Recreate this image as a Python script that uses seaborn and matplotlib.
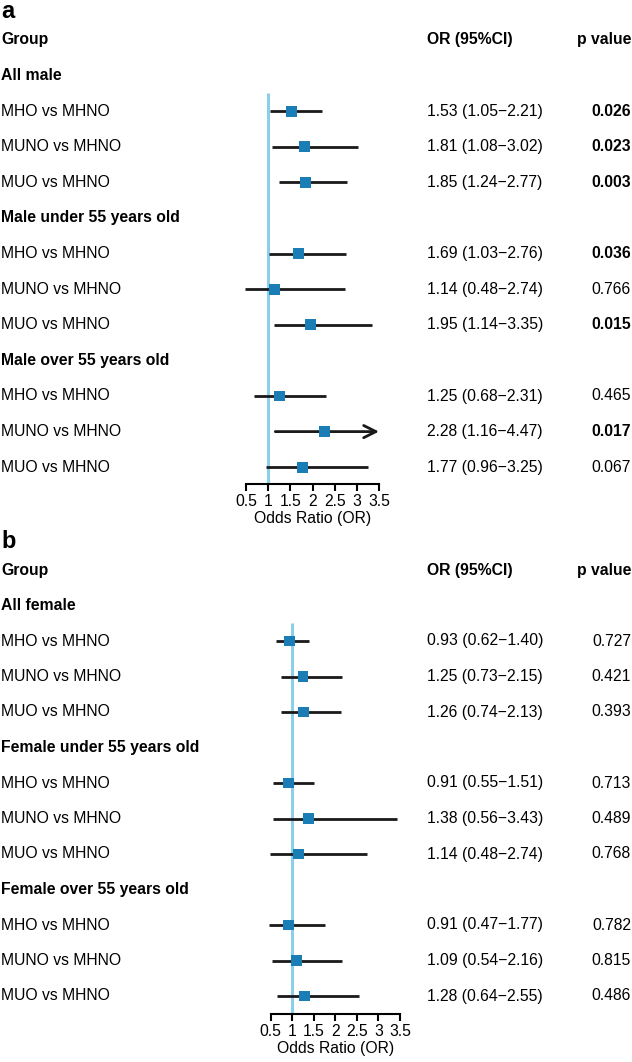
import numpy as np
import pandas as pd
import matplotlib
matplotlib.use("Agg")
import matplotlib.pyplot as plt
import seaborn as sns
from matplotlib.transforms import blended_transform_factory

sns.set_theme(style="white")
plt.rcParams["font.family"] = ["Liberation Sans", "DejaVu Sans"]
plt.rcParams["text.color"] = "black"
plt.rcParams["axes.labelcolor"] = "black"
plt.rcParams["xtick.color"] = "black"

# ---------------- data ----------------
comparisons = ["MHO vs MHNO", "MUNO vs MHNO", "MUO vs MHNO"]

male_subgroups = ["All male", "Male under 55 years old", "Male over 55 years old"]
male_or = [1.53, 1.81, 1.85, 1.69, 1.14, 1.95, 1.25, 2.28, 1.77]
male_lo = [1.05, 1.08, 1.24, 1.03, 0.48, 1.14, 0.68, 1.16, 0.96]
male_hi = [2.21, 3.02, 2.77, 2.76, 2.74, 3.35, 2.31, 4.47, 3.25]
male_p = ["0.026", "0.023", "0.003", "0.036", "0.766", "0.015", "0.465", "0.017", "0.067"]

female_subgroups = ["All female", "Female under 55 years old", "Female over 55 years old"]
female_or = [0.93, 1.25, 1.26, 0.91, 1.38, 1.14, 0.91, 1.09, 1.28]
female_lo = [0.62, 0.73, 0.74, 0.55, 0.56, 0.48, 0.47, 0.54, 0.64]
female_hi = [1.40, 2.15, 2.13, 1.51, 3.43, 2.74, 1.77, 2.16, 2.55]
female_p = ["0.727", "0.421", "0.393", "0.713", "0.489", "0.768", "0.782", "0.815", "0.486"]

x_ticks = [0.5, 1, 1.5, 2, 2.5, 3, 3.5]
x_tick_labels = ["0.5", "1", "1.5", "2", "2.5", "3", "3.5"]
x_label = "Odds Ratio (OR)"
col_headers = ["Group", "OR (95%CI)", "p value"]

W, H = 632, 1062
fig = plt.figure(figsize=(W / 100, H / 100), dpi=100)

SQ_COLOR = "#1a7db6"
REF_COLOR = "#8ccfe8"
LINE_COLOR = "#1a1a1a"
FS = 11.3


def build_df(subgroups, ors, los, his, ps):
    rows = []
    k = 0
    r = 1
    for sg in subgroups:
        r_header = r
        r += 1
        for c in comparisons:
            rows.append(dict(subgroup=sg, header_row=r_header, label=c, row=r,
                             OR=ors[k], lo=los[k], hi=his[k], p=ps[k]))
            k += 1
            r += 1
    return pd.DataFrame(rows)


def draw_panel(letter, df, y_group, step, y_axis, x05, x35):
    top_px = y_group - 0.5 * step
    ax = fig.add_axes([x05 / W, 1 - y_axis / H, (x35 - x05) / W, (y_axis - top_px) / H])
    xmin, xmax = x_ticks[0], x_ticks[-1]
    ax.set_xlim(xmin, xmax)
    ax.set_ylim((y_axis - y_group) / step, -0.5)

    ax.vlines(1, 1.5, (y_axis - y_group) / step, color=REF_COLOR, lw=2.2, zorder=1)

    for _, r in df.iterrows():
        if r.hi > xmax:
            ax.annotate("", xy=(xmax, r.row), xytext=(r.lo, r.row),
                        arrowprops=dict(arrowstyle="->", lw=2, color=LINE_COLOR,
                                        mutation_scale=22, shrinkA=0, shrinkB=0),
                        annotation_clip=False, zorder=2)
        else:
            ax.hlines(r.row, r.lo, r.hi, color=LINE_COLOR, lw=2, zorder=2, clip_on=False)

    sns.scatterplot(data=df, x="OR", y="row", marker="s", s=62, color=SQ_COLOR,
                    edgecolor="none", zorder=3, ax=ax, legend=False, clip_on=False)

    ax.set_xticks(x_ticks)
    ax.set_xticklabels(x_tick_labels, fontsize=FS)
    ax.set_yticks([])
    ax.set_xlabel(x_label, fontsize=FS, labelpad=2)
    ax.set_ylabel("")
    for s in ["top", "left", "right"]:
        ax.spines[s].set_visible(False)
    ax.spines["bottom"].set_color("black")
    ax.spines["bottom"].set_linewidth(1.5)
    ax.tick_params(axis="x", bottom=True, direction="out", length=5, width=1.5,
                   color="black", pad=2, labelcolor="black")

    tr = blended_transform_factory(fig.transFigure, ax.transData)
    x_grp, x_or, x_p = 1 / W, 427 / W, 631 / W
    ax.text(x_grp, 0, col_headers[0], transform=tr, fontsize=FS, fontweight="bold", va="center", ha="left")
    ax.text(x_or, 0, col_headers[1], transform=tr, fontsize=FS, fontweight="bold", va="center", ha="left")
    ax.text(x_p, 0, col_headers[2], transform=tr, fontsize=FS, fontweight="bold", va="center", ha="right")
    for sg, hr in df.groupby("subgroup", sort=False)["header_row"].first().items():
        ax.text(x_grp, hr, sg, transform=tr, fontsize=FS, fontweight="bold", va="center", ha="left")
    for _, r in df.iterrows():
        ax.text(x_grp, r.row, r.label, transform=tr, fontsize=FS, va="center", ha="left")
        ax.text(x_or, r.row, f"{r.OR:.2f} ({r.lo:.2f}\u2212{r.hi:.2f})", transform=tr,
                fontsize=FS, va="center", ha="left")
        bold = float(r.p) < 0.05
        ax.text(x_p, r.row, r.p, transform=tr, fontsize=FS, va="center", ha="right",
                fontweight="bold" if bold else "normal")

    fig.text(1 / W, 1 - (y_group - 28) / H, letter, fontsize=17, fontweight="bold",
             va="center", ha="left")
    return ax


df_m = build_df(male_subgroups, male_or, male_lo, male_hi, male_p)
df_f = build_df(female_subgroups, female_or, female_lo, female_hi, female_p)

draw_panel("a", df_m, y_group=40, step=35.6, y_axis=484, x05=246, x35=379)
draw_panel("b", df_f, y_group=570, step=35.5, y_axis=1014, x05=270.7, x35=400)

fig.savefig("out.png", dpi=100, facecolor="white")
